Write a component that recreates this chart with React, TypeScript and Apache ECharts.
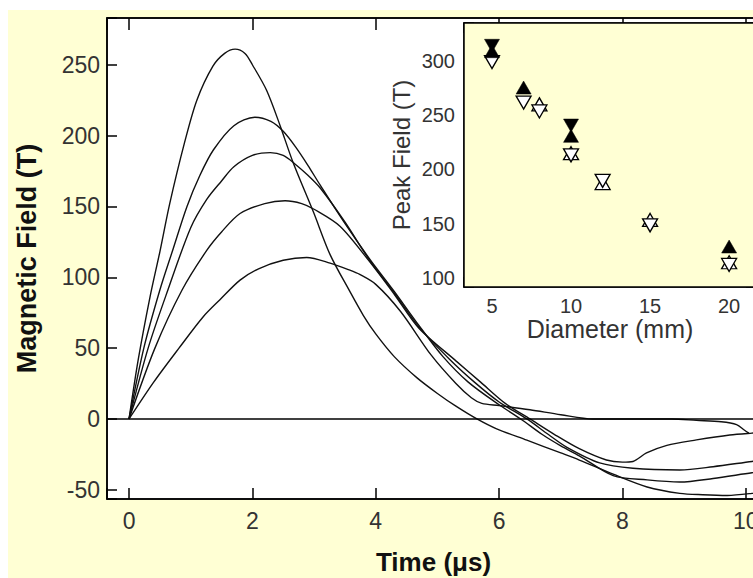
import React, { useEffect, useRef } from "react";
import * as echarts from "echarts";

// ---------- data ----------
// Main plot: magnetic field pulses, [time (µs), field (T)]
const pulse260: number[][] = [
  [0, 0], [0.15, 42], [0.34, 86], [0.5, 118], [0.66, 152], [0.9, 195], [1.1, 225], [1.36, 249],
  [1.55, 258], [1.72, 261], [1.88, 258], [2.0, 250], [2.23, 232], [2.45, 207], [2.66, 181],
  [2.99, 146], [3.26, 116], [3.58, 90], [3.8, 73], [4.0, 60], [4.3, 44], [4.67, 29], [5.0, 18],
  [5.3, 9], [5.64, 0], [5.96, -7], [6.45, -15], [7.0, -24], [7.3, -29], [7.85, -39], [8.4, -48],
  [8.93, -52.5], [9.3, -53.5], [9.7, -54], [10.1, -52.5], [10.3, -51],
];
const pulse213: number[][] = [
  [0, 0], [0.24, 50], [0.5, 91], [0.7, 118], [0.94, 150], [1.15, 172], [1.37, 190], [1.7, 207],
  [2.04, 213], [2.3, 210], [2.5, 203], [2.7, 192], [2.9, 179], [3.1, 165], [3.5, 138], [3.9, 113],
  [4.3, 90], [4.7, 66], [5.09, 44], [5.5, 26], [6.0, 10], [6.35, 0], [6.7, -11], [7.0, -19],
  [7.3, -26], [7.85, -40], [8.4, -43], [8.93, -44.5], [9.47, -42], [10.1, -38], [10.3, -37],
];
const pulse188: number[][] = [
  [0, 0], [0.31, 50], [0.63, 91], [1.0, 135], [1.26, 155], [1.5, 168], [1.7, 178], [2.0, 186],
  [2.29, 188], [2.5, 186], [2.69, 180], [2.9, 172], [3.1, 163], [3.5, 139], [3.9, 112], [4.3, 89],
  [4.7, 65], [5.2, 42], [5.6, 26], [6.0, 12], [6.45, 0], [6.8, -11], [7.1, -20], [7.63, -31],
  [8.17, -34.8], [8.93, -36], [9.47, -33.7], [10.1, -30], [10.3, -29],
];
const pulse154: number[][] = [
  [0, 0], [0.42, 50], [0.86, 91], [1.26, 119], [1.5, 132], [1.8, 145], [2.2, 152], [2.53, 154],
  [2.8, 152], [3.0, 148], [3.42, 136], [3.9, 111], [4.3, 88], [4.7, 64], [5.3, 41], [5.7, 26],
  [6.1, 11], [6.5, 0], [6.9, -11], [7.3, -21], [7.74, -29], [8.0, -30.5], [8.17, -30], [8.39, -24],
  [8.72, -18.6], [9.2, -14.8], [9.74, -11.3], [10.1, -10], [10.3, -9.5],
];
const pulse114: number[][] = [
  [0, 0], [0.4, 26], [0.81, 50], [1.2, 72], [1.47, 84], [1.8, 98], [2.1, 106], [2.5, 112],
  [2.88, 114], [3.26, 110], [3.58, 105], [3.74, 102], [4.0, 95], [4.4, 76], [4.9, 45], [5.3, 25],
  [5.55, 15], [5.72, 11], [6.0, 9.5], [6.5, 6.5], [7.0, 3], [7.52, 0], [8.0, 0], [8.8, 0],
  [9.2, -1], [9.6, -2], [9.85, -4], [9.98, -8], [10.05, -10],
];

// Inset: peak field (T) vs coil diameter (mm)
const filledUpDiam = [5, 7, 10, 20];
const filledUpPeak = [309, 275.5, 231, 129];
const filledDownDiam = [5, 10];
const filledDownPeak = [314, 240.5];
const openUpDiam = [8, 10, 12, 15, 20];
const openUpPeak = [260, 215, 187.5, 153.5, 114.5];
const openDownDiam = [5, 7, 8, 10, 12, 15, 20];
const openDownPeak = [299, 261.7, 253.5, 213, 189.5, 148.5, 112];

const timeTicksStep = 2;
const fieldTicksStep = 50;
const diamTicksStep = 5;
const peakTicksStep = 50;

// ---------- layout ----------
const OX = 8;
const OY = 10;
const BG = "#FFFFD4";
const FONT = "'Liberation Sans', Arial, Helvetica, sans-serif";
const LABEL_COLOR = "#333";

const zip = (xs: number[], ys: number[]) => xs.map((x, i) => [x, ys[i]]);

function buildOption() {
  const curveSeries = [pulse260, pulse213, pulse188, pulse154, pulse114].map((d, i) => ({
    type: "line",
    xAxisIndex: 0,
    yAxisIndex: 0,
    data: d,
    showSymbol: false,
    smooth: 0.3,
    clip: true,
    lineStyle: { color: "#111", width: 1.4 },
    silent: true,
    z: 3,
    ...(i === 0
      ? {
          markLine: {
            silent: true,
            symbol: ["none", "none"],
            label: { show: false },
            lineStyle: { color: "#000", width: 1.5, type: "solid" },
            data: [{ yAxis: 0 }],
          },
        }
      : {}),
  }));

  const marker = (
    xs: number[],
    ys: number[],
    filled: boolean,
    down: boolean,
    z: number
  ) => ({
    type: "scatter",
    xAxisIndex: 2,
    yAxisIndex: 1,
    data: zip(xs, ys),
    symbol: "triangle",
    symbolSize: [15, 13],
    symbolRotate: down ? 180 : 0,
    itemStyle: {
      color: filled ? "#000" : "#fff",
      borderColor: "#000",
      borderWidth: filled ? 0.5 : 1.3,
      opacity: 1,
    },
    z,
    silent: true,
  });

  const mainTick = (len: number) => ({ show: true, inside: true, length: len, lineStyle: { color: "#000", width: 1.5 } });
  const axisLine = { show: true, onZero: false, lineStyle: { color: "#000", width: 1.5 } };

  return {
    animation: false,
    backgroundColor: "transparent",
    textStyle: { fontFamily: FONT },
    grid: [
      { left: 107 - OX, top: 18 - OY, width: 653, height: 481, show: true, backgroundColor: "#fff", borderColor: "#000", borderWidth: 1.5, containLabel: false, outerBoundsMode: "none" },
      { left: 464 - OX, top: 23 - OY, width: 292, height: 264, show: true, backgroundColor: BG, borderColor: "#000", borderWidth: 1.5, containLabel: false, outerBoundsMode: "none", z: 2 },
    ],
    xAxis: [
      {
        type: "value", gridIndex: 0, position: "bottom", min: -0.357, max: 10.23, splitNumber: 5,
        axisLine, axisTick: mainTick(11), splitLine: { show: false },
        axisLabel: {
          fontSize: 23, color: LABEL_COLOR, margin: 10, fontFamily: FONT,
          formatter: (v: number) => (Math.abs(v % timeTicksStep) < 1e-9 ? String(v) : ""),
        },
        name: "Time (μs)", nameLocation: "middle", nameGap: 50, nameMoveOverlap: false,
        nameTextStyle: { fontSize: 26, fontWeight: "bold", color: "#111", fontFamily: FONT },
      },
      {
        type: "value", gridIndex: 0, position: "top", min: -0.357, max: 10.23, splitNumber: 5,
        axisLine, axisTick: mainTick(12), splitLine: { show: false }, axisLabel: { show: false },
      },
      {
        type: "value", gridIndex: 1, position: "bottom", min: 3.23, max: 21.7, splitNumber: 4,
        axisLine, axisTick: mainTick(10), splitLine: { show: false },
        axisLabel: {
          fontSize: 20, color: LABEL_COLOR, margin: 9, fontFamily: FONT,
          formatter: (v: number) => (Math.abs(v % diamTicksStep) < 1e-9 ? String(v) : ""),
        },
        name: "Diameter (mm)", nameLocation: "middle", nameGap: 29, nameMoveOverlap: false,
        nameTextStyle: { fontSize: 25, color: LABEL_COLOR, fontFamily: FONT },
      },
      {
        type: "value", gridIndex: 1, position: "top", min: 3.23, max: 21.7, splitNumber: 4,
        axisLine, axisTick: mainTick(10), splitLine: { show: false }, axisLabel: { show: false },
      },
    ],
    yAxis: [
      {
        type: "value", gridIndex: 0, position: "left", min: -56.5, max: 283, splitNumber: 6,
        axisLine, axisTick: mainTick(10), splitLine: { show: false },
        axisLabel: {
          fontSize: 23, color: LABEL_COLOR, margin: 7, fontFamily: FONT,
          formatter: (v: number) => (Math.abs(v % fieldTicksStep) < 1e-9 ? String(v) : ""),
        },
        name: "Magnetic Field (T)", nameLocation: "middle", nameGap: 67, nameMoveOverlap: false,
        nameTextStyle: { fontSize: 27, fontWeight: "bold", color: "#111", fontFamily: FONT },
      },
      {
        type: "value", gridIndex: 1, position: "left", min: 91.7, max: 335, splitNumber: 5,
        axisLine, axisTick: mainTick(10), splitLine: { show: false },
        axisLabel: {
          fontSize: 20, color: LABEL_COLOR, margin: 9, fontFamily: FONT,
          formatter: (v: number) => (Math.abs(v % peakTicksStep) < 1e-9 ? String(v) : ""),
        },
        name: "Peak Field (T)", nameLocation: "middle", nameGap: 51, nameMoveOverlap: false,
        nameTextStyle: { fontSize: 24, color: LABEL_COLOR, fontFamily: FONT },
      },
      {
        type: "value", gridIndex: 1, position: "right", min: 91.7, max: 335, splitNumber: 5,
        axisLine, axisTick: mainTick(10), splitLine: { show: false }, axisLabel: { show: false },
      },
    ],
    series: [
      ...curveSeries,
      marker(openUpDiam, openUpPeak, false, false, 5),
      marker(openDownDiam, openDownPeak, false, true, 6),
      marker(filledUpDiam, filledUpPeak, true, false, 7),
      marker(filledDownDiam, filledDownPeak, true, true, 8),
    ],
  };
}

export default function App() {
  const ref = useRef<HTMLDivElement>(null);
  useEffect(() => {
    if (!ref.current) return;
    const chart = echarts.init(ref.current, null, { renderer: "svg" });
    chart.setOption(buildOption() as any);
    return () => chart.dispose();
  }, []);
  return (
    <div
      style={{
        position: "fixed", left: 0, top: 0, width: 753, height: 578,
        overflow: "hidden", background: "#fff",
      }}
    >
      <div
        ref={ref}
        style={{ position: "absolute", left: OX, top: OY, width: 812, height: 568, background: BG }}
      />
    </div>
  );
}
